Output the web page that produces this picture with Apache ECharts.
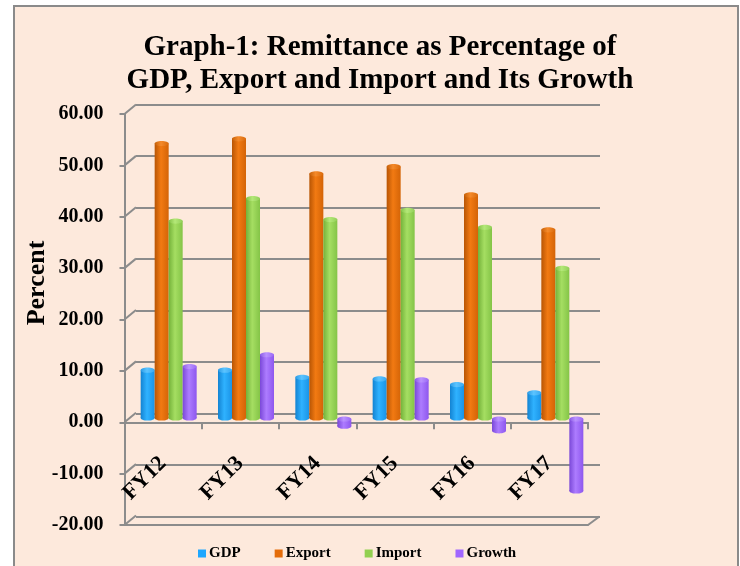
<!DOCTYPE html>
<html>
<head>
<meta charset="utf-8">
<script src="https://cdn.jsdelivr.net/npm/echarts@6/dist/echarts.min.js"></script>
<style>
  html, body { margin:0; padding:0; background:#ffffff; }
  #frame { position:absolute; left:13px; top:5px; width:726px; height:600px; box-sizing:border-box;
           border:2.5px solid #8a8a8a; background:#FDE9DC; }
  #chart { position:absolute; left:0; top:0; width:740px; height:566px; }
</style>
</head>
<body>
<div id="frame"></div>
<div id="chart"></div>
<script>
const categories = ['FY12', 'FY13', 'FY14', 'FY15', 'FY16', 'FY17'];
const gdp    = [9.5, 9.5, 8.1, 7.8, 6.7, 5.1];
const exportV = [53.6, 54.5, 47.7, 49.1, 43.6, 36.8];
const importV = [38.5, 42.9, 38.8, 40.6, 37.3, 29.3];
const growth = [10.2, 12.5, -1.6, 7.6, -2.5, -14.2];
const yTicks = [-20, -10, 0, 10, 20, 30, 40, 50, 60];
const seriesNames = ['GDP', 'Export', 'Import', 'Growth'];

const FONT = 'Liberation Serif';
const GRAY = '#8c8c8c';

function grad(c0, c1, c2) {
  return {
    type: 'linear', x: 0, y: 0, x2: 1, y2: 0, global: false,
    colorStops: [
      { offset: 0, color: c0 },
      { offset: 0.45, color: c1 },
      { offset: 1, color: c2 }
    ]
  };
}
const colors = ['#1EA7FF', '#E46C0A', '#92D050', '#A066FF'];
const bodyFill = [
  ['#1383d2', '#2fb2ff', '#1a93e6'],
  ['#b85504', '#f27a12', '#d46407'],
  ['#74b23a', '#a5de62', '#84c447'],
  ['#7a48d8', '#ad7cff', '#8e57ee']
];
const capFill = [
  ['#2a9be6', '#5cc4ff', '#3aa8f0'],
  ['#c45f08', '#f58a2a', '#d86a0c'],
  ['#82c046', '#b4e878', '#92cf58'],
  ['#8a5ae6', '#bb92ff', '#9b6af5']
];
const values = [gdp, exportV, importV, growth];
const BAR_W = 14;

const chart = echarts.init(document.getElementById('chart'));

const barSeries = values.map((arr, i) => ({
  name: seriesNames[i],
  type: 'custom',
  xAxisIndex: 2, yAxisIndex: 2,
  data: arr.map((v, k) => [k, v]),
  itemStyle: { color: colors[i] },
  z: 5,
  renderItem: function (params, api) {
    const k = api.value(0), v = api.value(1);
    const top = api.coord([k, v]);
    const base = api.coord([k, 0]);
    const cx = top[0] + (i - 1.5) * BAR_W;
    const x = cx - BAR_W / 2;
    const yHi = Math.min(top[1], base[1]);
    const yLo = Math.max(top[1], base[1]);
    const ry = 2.6;
    return {
      type: 'group',
      children: [
        { type: 'ellipse', shape: { cx: cx, cy: yLo - 1, rx: BAR_W / 2, ry: ry },
          style: { fill: grad.apply(null, bodyFill[i]) } },
        { type: 'rect', shape: { x: x, y: yHi, width: BAR_W, height: Math.max(0, yLo - 1 - yHi) },
          style: { fill: grad.apply(null, bodyFill[i]) } },
        { type: 'ellipse', shape: { cx: cx, cy: yHi, rx: BAR_W / 2, ry: ry },
          style: { fill: grad.apply(null, capFill[i]) } }
      ]
    };
  }
}));

chart.setOption({
  backgroundColor: 'transparent',
  animation: false,
  color: colors,
  title: {
    text: 'Graph-1: Remittance as Percentage of\nGDP, Export and Import and Its Growth',
    left: 375, top: 26, textAlign: 'center',
    textStyle: { fontFamily: FONT, fontWeight: 'bold', fontSize: 29, lineHeight: 33, color: '#000' }
  },
  legend: {
    data: seriesNames,
    left: 193, top: 541,
    itemWidth: 8, itemHeight: 8, itemGap: 34,
    icon: 'rect',
    textStyle: { fontFamily: FONT, fontWeight: 'bold', fontSize: 15, color: '#000', padding: [0, 0, 0, -2] }
  },
  grid: [
    { left: 136, right: 140, top: 104.3, bottom: 49.5, outerBoundsMode: 'none', containLabel: false },
    { left: 124.5, right: 152, top: 114, bottom: 41, outerBoundsMode: 'none', containLabel: false },
    { left: 130, right: 146, top: 110.6, bottom: 44.2, outerBoundsMode: 'none', containLabel: false },
    { left: 124.5, right: 152, top: 114, bottom: 143.75, outerBoundsMode: 'none', containLabel: false }
  ],
  xAxis: [
    { type: 'category', gridIndex: 0, data: categories, show: false },
    { type: 'category', gridIndex: 1, data: categories, position: 'bottom',
      axisLine: { onZero: false, lineStyle: { color: GRAY, width: 2 } },
      axisTick: { show: false }, axisLabel: { show: false }, splitLine: { show: false } },
    { type: 'category', gridIndex: 2, data: categories, show: false },
    { type: 'category', gridIndex: 3, data: categories, position: 'bottom',
      axisLine: { onZero: false, lineStyle: { color: GRAY, width: 2 } },
      axisTick: { show: true, length: 7, lineStyle: { color: GRAY, width: 2 } },
      axisLabel: { rotate: 45, margin: 38, fontFamily: FONT, fontWeight: 'bold', fontSize: 22, color: '#000' },
      splitLine: { show: false } }
  ],
  yAxis: [
    { type: 'value', gridIndex: 0, min: -20, max: 60, interval: 10,
      axisLine: { show: false }, axisTick: { show: false }, axisLabel: { show: false },
      splitLine: { show: true, lineStyle: { color: GRAY, width: 2 } } },
    { type: 'value', gridIndex: 1, min: -20, max: 60, interval: 10,
      name: 'Percent', nameLocation: 'middle', nameGap: 74, nameRotate: 90, nameMoveOverlap: false,
      nameTextStyle: { fontFamily: FONT, fontWeight: 'bold', fontSize: 26, color: '#000', padding: [0, 0, 0, 73] },
      axisLine: { show: true, onZero: false, lineStyle: { color: GRAY, width: 2 } },
      axisTick: { show: true, length: 5, lineStyle: { color: GRAY, width: 2 } },
      axisLabel: { margin: 21, fontFamily: FONT, fontWeight: 'bold', fontSize: 20, color: '#000',
                   formatter: v => v.toFixed(2) },
      splitLine: { show: false } },
    { type: 'value', gridIndex: 2, min: -20, max: 60, interval: 10, show: false },
    { type: 'value', gridIndex: 3, min: 0, max: 60, interval: 10, show: false }
  ],
  series: [
    {
      type: 'custom',
      xAxisIndex: 1, yAxisIndex: 1,
      data: yTicks.map(v => [0, v]),
      silent: true,
      z: 1,
      renderItem: function (params, api) {
        const v = api.value(1);
        const p = api.coord([0, v]);
        const bw = api.size([1, 0])[0];
        const x0 = p[0] - bw / 2;
        const children = [{
          type: 'line',
          shape: { x1: x0, y1: p[1], x2: x0 + 11.5, y2: p[1] - 9.5 },
          style: { stroke: GRAY, lineWidth: 2 }
        }];
        if (v === yTicks[0]) {
          const xr = x0 + bw * categories.length;
          children.push({
            type: 'line',
            shape: { x1: xr, y1: p[1], x2: xr + 11.5, y2: p[1] - 8.5 },
            style: { stroke: GRAY, lineWidth: 2 }
          });
        }
        return { type: 'group', children: children };
      }
    }
  ].concat(barSeries)
});
</script>
</body>
</html>
